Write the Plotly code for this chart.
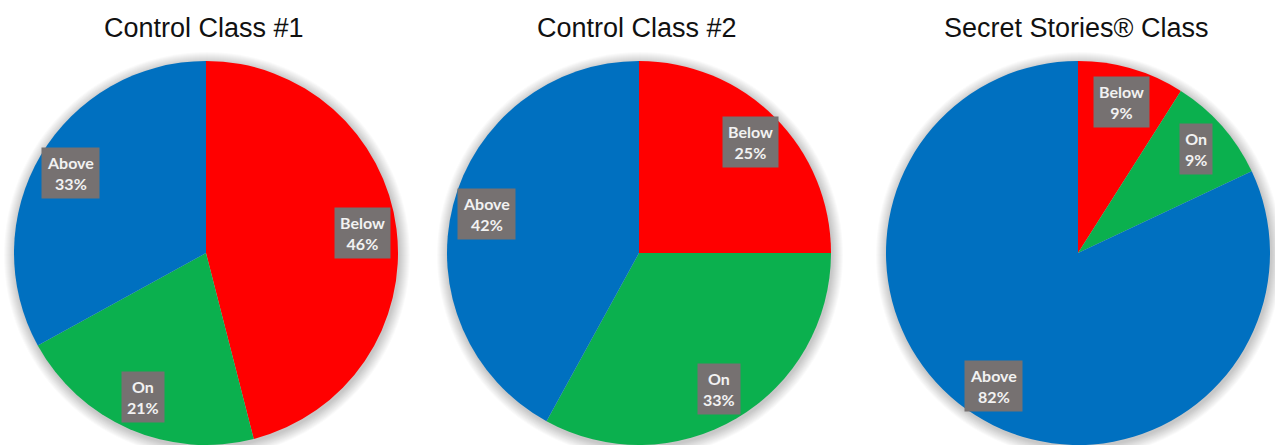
import math
import plotly.graph_objects as go

W, H = 1275, 445

titles = ["Control Class #1", "Control Class #2", "Secret Stories\u00ae Class"]
categories = ["Below", "On", "Above"]
class1 = [46, 21, 33]
class2 = [25, 33, 42]
secret = [9, 9, 82]
series = [class1, class2, secret]
colors = ["#FF0000", "#0BB04E", "#0070C0"]

# layout (pixels)
centers_x = [206, 639, 1078]
R = 192
cy_top = H - R  # centre y measured from top

fig = go.Figure()

for i, vals in enumerate(series):
    cx = centers_x[i]
    fig.add_trace(go.Pie(
        labels=categories, values=vals, sort=False, direction="clockwise",
        rotation=0, marker=dict(colors=colors, line=dict(width=0)),
        textinfo="none", hoverinfo="label+percent", showlegend=False,
        domain=dict(x=[(cx - R) / W, (cx + R) / W], y=[0, 2 * R / H]),
    ))
    # soft shadow
    for k in range(11, 0, -1):
        fig.add_shape(type="circle", xref="paper", yref="paper",
                      xsizemode="pixel", ysizemode="pixel",
                      xanchor=(cx + 1) / W, yanchor=1 - (cy_top + 2) / H,
                      x0=-(R + k), x1=R + k, y0=-(R + k), y1=R + k,
                      fillcolor="rgba(0,0,0,0.02)", line=dict(width=0),
                      layer="below")
    # title
    fig.add_annotation(text=titles[i], xref="paper", yref="paper",
                       x=(cx - 2) / W, y=1 - 28 / H, xanchor="center", yanchor="middle",
                       showarrow=False,
                       font=dict(family="Liberation Sans, Arial", size=27, color="#111111"))
    # data labels
    total = sum(vals)
    cum = 0
    for cat, v in zip(categories, vals):
        mid = (cum + v / 2) / total * 2 * math.pi
        cum += v
        d = 0.82 * R
        px = cx + d * math.sin(mid)
        py = cy_top - d * math.cos(mid)
        pct = round(v / total * 100)
        fig.add_annotation(text=f"<b>{cat}</b><br><b>{pct}%</b>",
                           xref="paper", yref="paper", x=px / W, y=1 - py / H,
                           xanchor="center", yanchor="middle", showarrow=False,
                           bgcolor="#767171", borderpad=5,
                           font=dict(family="Lato, Open Sans", size=16, color="#F2F2F2"))

fig.update_layout(width=W, height=H, margin=dict(l=0, r=0, t=0, b=0),
                  paper_bgcolor="white", plot_bgcolor="white")
fig.write_html("out.html")
